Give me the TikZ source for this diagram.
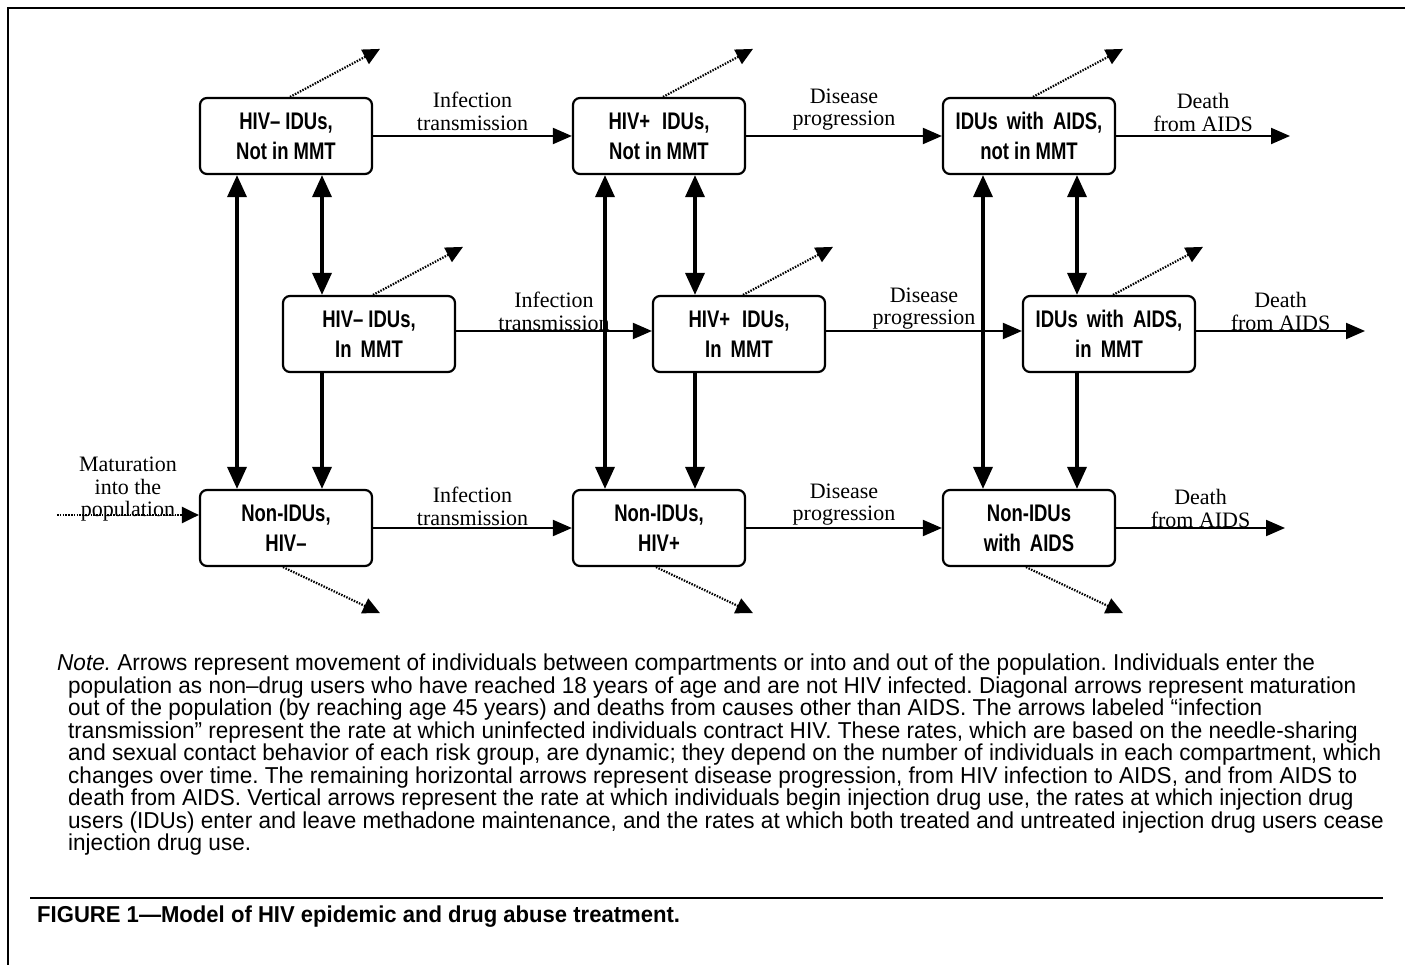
\documentclass[tikz,border=0pt]{standalone}
\usepackage{fontspec}
\setmainfont{Liberation Serif}
\setsansfont{Liberation Sans}
\newfontfamily\boxfont[FakeStretch=0.77]{Liberation Sans}
\newfontfamily\notefont[FakeStretch=0.98]{Liberation Sans}
\newfontfamily\capfont[FakeStretch=0.96]{Liberation Sans}
\usetikzlibrary{arrows.meta,calc}
\frenchspacing
\begin{document}
\begin{tikzpicture}[x=1pt,y=-1pt,
    comp/.style={draw,line width=2.2pt,rounded corners=7pt,minimum width=172pt,minimum height=76pt,
      align=center,font=\boxfont\bfseries\fontsize{24}{30}\selectfont},
    flow/.style={line width=2pt,-{Triangle[length=19pt,width=16pt]}},
    vflow/.style={line width=3.5pt,-{Triangle[length=22pt,width=19pt]}},
    both/.style={line width=3.5pt,{Triangle[length=22pt,width=19pt]}-{Triangle[length=22pt,width=19pt]}},
    outflow/.style={line width=2.2pt,dash pattern=on 1.5pt off 1.3pt,-{Triangle[length=17pt,width=16pt]}},
    lbl/.style={font=\fontsize{22}{22.5}\selectfont,align=center,inner sep=1.5pt,above}]
  \useasboundingbox (0,0) rectangle (1405,965);
  \draw[line width=2pt] (8,965) -- (8,8) -- (1405,8);
  \draw
    (286,136) node[comp] (a1){HIV– IDUs,\\Not in MMT}
    (659,136) node[comp] (a2){HIV+\enspace IDUs,\\Not in MMT}
    (1029,136) node[comp] (a3){IDUs\,\ with\,\ AIDS,\\not in MMT}
    (369,334) node[comp] (b1){HIV– IDUs,\\In\, MMT}
    (739,334) node[comp] (b2){HIV+\enspace IDUs,\\In\, MMT}
    (1109,334) node[comp] (b3){IDUs\,\ with\,\ AIDS,\\in\, MMT}
    (286,528) node[comp] (c1){Non-IDUs,\\HIV–}
    (659,528) node[comp] (c2){Non-IDUs,\\HIV+}
    (1029,528) node[comp] (c3){Non-IDUs\\with\, AIDS};
  \coordinate (da) at (1290,136);
  \coordinate (db) at (1365,331);
  \coordinate (dc) at (1285,528);
  \coordinate (mat) at (57,515);
  \foreach \n in {a1,a2,a3,b1,b2,b3}
    \coordinate (o\n) at ($(\n.north)+(94,-48)$);
  \foreach \n in {c1,c2,c3}
    \coordinate (o\n) at ($(\n.south)+(94,46)$);
  \begin{scope}[flow]
    \draw (a1) to node[lbl,yshift=3pt]{Infection\\transmission} (a2);
    \draw (a2) to node[lbl,yshift=3pt]{Disease\\progression} (a3);
    \draw (a3) to node[lbl,yshift=2pt]{Death\\from AIDS} (da);
    \draw ([yshift=3pt]b1.east) to node[lbl,yshift=-2pt]{Infection\\transmission} ([yshift=3pt]b2.west);
    \draw ([yshift=3pt]b2.east) to node[lbl,yshift=-1pt]{Disease\\progression} ([yshift=3pt]b3.west);
    \draw ([yshift=3pt]b3.east) to node[lbl,yshift=-2pt]{Death\\from AIDS} (db);
    \draw (c1) to node[lbl]{Infection\\transmission} (c2);
    \draw (c2) to node[lbl]{Disease\\progression} (c3);
    \draw (c3) to node[lbl,yshift=-2pt]{Death\\from AIDS} (dc);
  \end{scope}
  \draw[outflow] (mat) to node[lbl,yshift=-9pt]{Maturation\\into the\\population} ([yshift=13pt]c1.west);
  % up and down the columns
  \draw[both] ([xshift=-49pt]a1.south) to ([xshift=-49pt]c1.north);
  \draw[both] ([xshift=36pt]a1.south) to ([xshift=-47pt]b1.north);
  \draw[vflow] ([xshift=-47pt]b1.south) to ([xshift=36pt]c1.north);
  \draw[both] ([xshift=-54pt]a2.south) to ([xshift=-54pt]c2.north);
  \draw[both] ([xshift=36pt]a2.south) to ([xshift=-44pt]b2.north);
  \draw[vflow] ([xshift=-44pt]b2.south) to ([xshift=36pt]c2.north);
  \draw[both] ([xshift=-46pt]a3.south) to ([xshift=-46pt]c3.north);
  \draw[both] ([xshift=48pt]a3.south) to ([xshift=-32pt]b3.north);
  \draw[vflow] ([xshift=-32pt]b3.south) to ([xshift=48pt]c3.north);
  % out of the population
  \foreach \n in {a1,a2,a3,b1,b2,b3}
    \draw[outflow] ([xshift=4pt]\n.north) to (o\n);
  \foreach \n in {c1,c2,c3}
    \draw[outflow] ([xshift=-3pt]\n.south) to (o\n);
  \node[anchor=north west,inner sep=0pt,align=left,font=\notefont\fontsize{23}{22.5}\selectfont] (note) at (68,654)
    {\hspace*{-11pt}\textit{Note.} Arrows represent movement of individuals between compartments or into and out of the population. Individuals enter the\\
     population as non–drug users who have reached 18 years of age and are not HIV infected. Diagonal arrows represent maturation\\
     out of the population (by reaching age 45 years) and deaths from causes other than AIDS. The arrows labeled “infection\\
     transmission” represent the rate at which uninfected individuals contract HIV. These rates, which are based on the needle-sharing\\
     and sexual contact behavior of each risk group, are dynamic; they depend on the number of individuals in each compartment, which\\
     changes over time. The remaining horizontal arrows represent disease progression, from HIV infection to AIDS, and from AIDS to\\
     death from AIDS. Vertical arrows represent the rate at which individuals begin injection drug use, the rates at which injection drug\\
     users (IDUs) enter and leave methadone maintenance, and the rates at which both treated and untreated injection drug users cease\\
     injection drug use.};
  \draw[line width=1.5pt] (30,898) -- (1383,898);
  \node[anchor=west,inner sep=0pt,font=\capfont\bfseries\fontsize{23}{24}\selectfont] (cap) at (37,917)
    {FIGURE 1—Model of HIV epidemic and drug abuse treatment.};
\end{tikzpicture}
\end{document}
